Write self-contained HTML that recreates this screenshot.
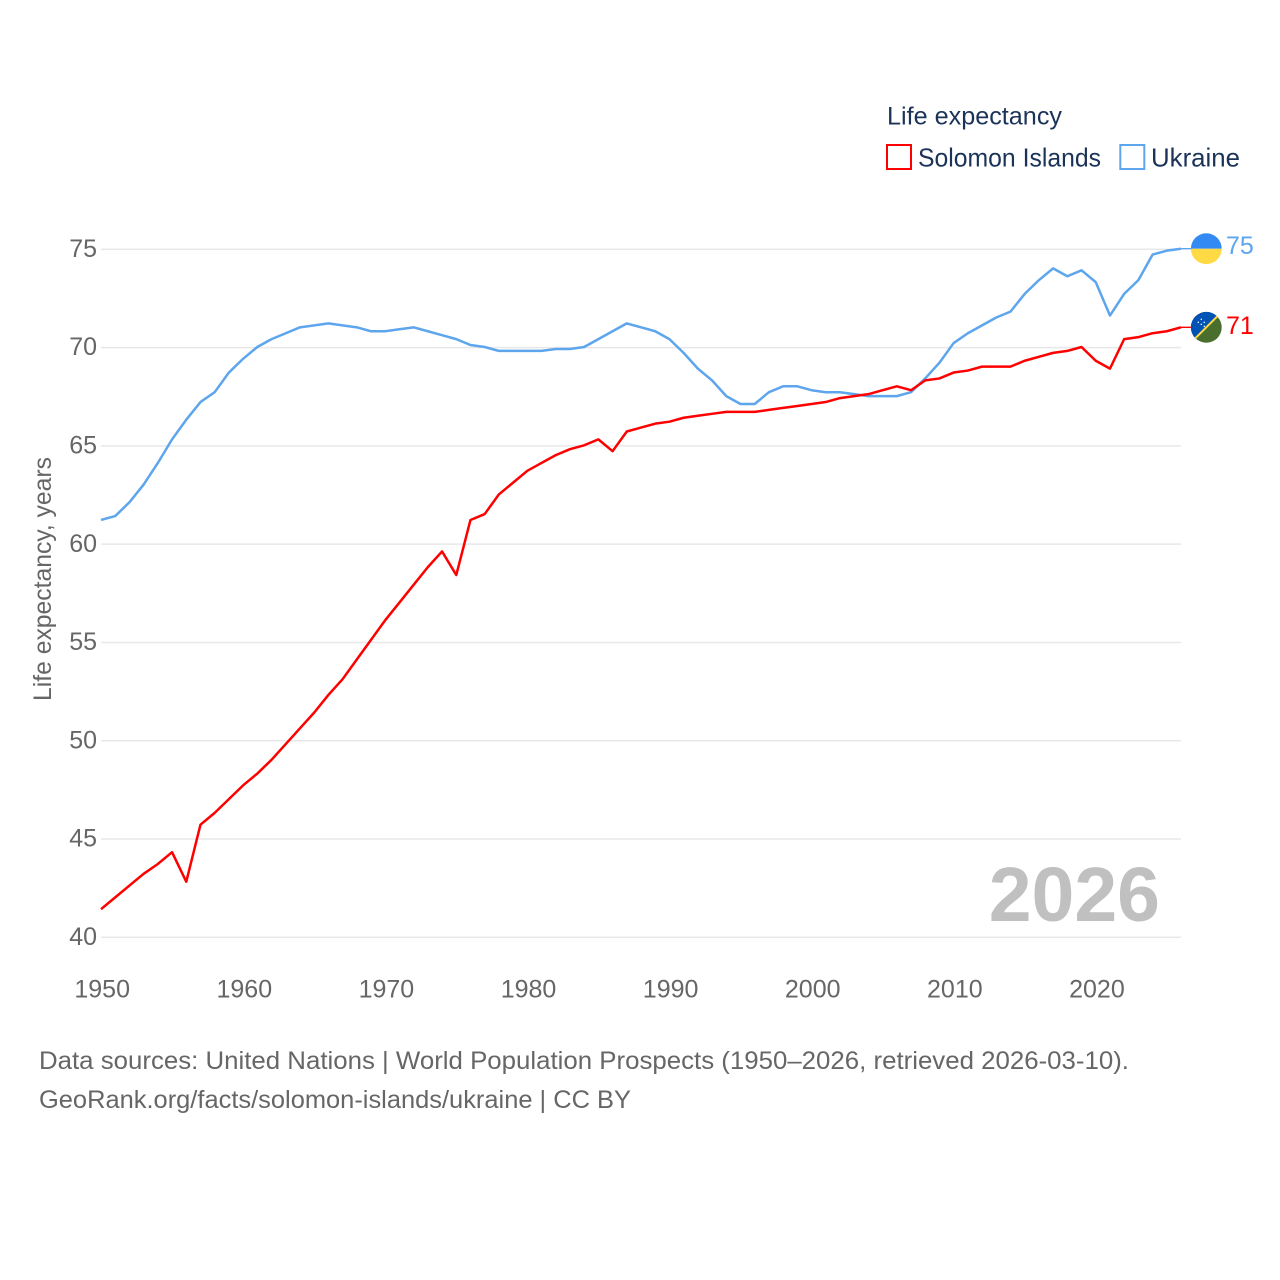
<!DOCTYPE html>
<html lang="en">
<head>
<meta charset="utf-8">
<title>Life expectancy: Solomon Islands and Ukraine</title>
<style>
html,body{margin:0;padding:0;background:#fff;width:1280px;height:1280px;overflow:hidden}
svg{display:block}
text{font-family:"Liberation Sans",sans-serif}
</style>
</head>
<body>
<svg id="chart" xmlns="http://www.w3.org/2000/svg" width="1280" height="1280" viewBox="0 0 1280 1280">
  <g id="grid"></g>
  <g id="yticks"></g>
  <g id="xticks"></g>
  <text transform="translate(51,701) rotate(-90)" font-size="25" fill="#666" textLength="244" lengthAdjust="spacingAndGlyphs">Life expectancy, years</text>
  <text x="1160" y="921" text-anchor="end" font-size="77" font-weight="700" fill="#c0c0c0">2026</text>
  <g id="series"></g>

  <g>
    <text x="887" y="124.5" font-size="25" fill="#1b3358" textLength="175" lengthAdjust="spacingAndGlyphs">Life expectancy</text>
    <rect x="887" y="145" width="24" height="24" fill="#fff" stroke="#f00" stroke-width="2"/>
    <text x="918" y="166.5" font-size="26" fill="#1b3358" textLength="183" lengthAdjust="spacingAndGlyphs">Solomon Islands</text>
    <rect x="1120.3" y="145" width="24" height="24" fill="#fff" stroke="#5da5ec" stroke-width="2"/>
    <text x="1151" y="166.5" font-size="26" fill="#1b3358" textLength="89" lengthAdjust="spacingAndGlyphs">Ukraine</text>
  </g>

  <g id="endmarks"></g>

  <text x="39" y="1069" font-size="25" fill="#666" textLength="1090" lengthAdjust="spacingAndGlyphs">Data sources: United Nations | World Population Prospects (1950–2026, retrieved 2026-03-10).</text>
  <text x="39" y="1108" font-size="25" fill="#666" textLength="592" lengthAdjust="spacingAndGlyphs">GeoRank.org/facts/solomon-islands/ukraine | CC BY</text>
</svg>
<script>
const startYear = 1950;
const yTickValues = [40, 45, 50, 55, 60, 65, 70, 75];
const xTickYears = [1950, 1960, 1970, 1980, 1990, 2000, 2010, 2020];
const solomonValues = [41.4,42.0,42.6,43.2,43.7,44.3,42.8,45.7,46.3,47.0,47.7,48.3,49.0,49.8,50.6,51.4,52.3,53.1,54.1,55.1,56.1,57.0,57.9,58.8,59.6,58.4,61.2,61.5,62.5,63.1,63.7,64.1,64.5,64.8,65.0,65.3,64.7,65.7,65.9,66.1,66.2,66.4,66.5,66.6,66.7,66.7,66.7,66.8,66.9,67.0,67.1,67.2,67.4,67.5,67.6,67.8,68.0,67.8,68.3,68.4,68.7,68.8,69.0,69.0,69.0,69.3,69.5,69.7,69.8,70.0,69.3,68.9,70.4,70.5,70.7,70.8,71.0];
const ukraineValues = [61.2,61.4,62.1,63.0,64.1,65.3,66.3,67.2,67.7,68.7,69.4,70.0,70.4,70.7,71.0,71.1,71.2,71.1,71.0,70.8,70.8,70.9,71.0,70.8,70.6,70.4,70.1,70.0,69.8,69.8,69.8,69.8,69.9,69.9,70.0,70.4,70.8,71.2,71.0,70.8,70.4,69.7,68.9,68.3,67.5,67.1,67.1,67.7,68.0,68.0,67.8,67.7,67.7,67.6,67.5,67.5,67.5,67.7,68.4,69.2,70.2,70.7,71.1,71.5,71.8,72.7,73.4,74.0,73.6,73.9,73.3,71.6,72.7,73.4,74.7,74.9,75.0];

const NS = 'http://www.w3.org/2000/svg';
const seriesNudge = -0.6;
function xScale(year) { return 101 + (year - 1950) * (1181 - 101) / 76; }
function yScale(v) { return 937.3 - (v - 40) * (937.3 - 249.3) / 35; }
function make(tag, attrs, parent, content) {
  const el = document.createElementNS(NS, tag);
  for (const k in attrs) el.setAttribute(k, attrs[k]);
  if (content !== undefined) el.textContent = content;
  parent.appendChild(el);
  return el;
}

const gridG = document.getElementById('grid');
const yG = document.getElementById('yticks');
yTickValues.forEach(function (v) {
  const line = make('line', {x1: 101, x2: 1181, y1: yScale(v), y2: yScale(v), stroke: '#e8e8e8', 'stroke-width': 1.5}, gridG);
  
  
  const label = make('text', {x: 97, y: yScale(v) + 7.6, 'text-anchor': 'end', 'font-size': 25, fill: '#666'}, yG, String(v));
  
  
});

const xG = document.getElementById('xticks');
xTickYears.forEach(function (yr) {
  const label = make('text', {x: xScale(yr) + 1.2, y: 997.4, 'text-anchor': 'middle', 'font-size': 25, fill: '#666'}, xG, String(yr));
  
  
});

function linePoints(values) {
  return values.map(function (v, i) {
    return xScale(startYear + i).toFixed(2) + ',' + (yScale(v) + seriesNudge).toFixed(2);
  }).join(' ');
}
const seriesG = document.getElementById('series');
const ukraineLine = make('polyline', {points: linePoints(ukraineValues), fill: 'none', stroke: '#5da5ec', 'stroke-width': 2.5, 'stroke-linejoin': 'round'}, seriesG);


const solomonLine = make('polyline', {points: linePoints(solomonValues), fill: 'none', stroke: '#f00', 'stroke-width': 2.5, 'stroke-linejoin': 'round'}, seriesG);



const endG = document.getElementById('endmarks');
const markX = 1206.3;
const flagR = 15.4;
const uLast = ukraineValues[ukraineValues.length - 1];
const sLast = solomonValues[solomonValues.length - 1];
const uY = yScale(uLast) + seriesNudge;
const sY = yScale(sLast) + seriesNudge;

const uConn = make('line', {x1: 1181, x2: 1192, y1: uY, y2: uY, stroke: '#5da5ec', 'stroke-width': 1.4}, endG);


const sConn = make('line', {x1: 1181, x2: 1192, y1: sY, y2: sY, stroke: '#f00', 'stroke-width': 1.4}, endG);



const uFlag = make('g', {transform: 'translate(' + markX + ',' + uY + ')'}, endG);


make('path', {d: 'M-' + flagR + ',0A' + flagR + ',' + flagR + ' 0 0 1 ' + flagR + ',0Z', fill: '#338af3'}, uFlag);
make('path', {d: 'M-' + flagR + ',0A' + flagR + ',' + flagR + ' 0 0 0 ' + flagR + ',0Z', fill: '#ffda44'}, uFlag);

const sFlag = make('g', {transform: 'translate(' + markX + ',' + sY + ')'}, endG);


make('circle', {r: flagR, fill: '#496e2d'}, sFlag);
make('path', {d: 'M-10.9,10.9A15.4,15.4 0 0 1 10.9,-10.9Z', fill: '#0052b4'}, sFlag);
make('line', {x1: -10.9, y1: 10.9, x2: 10.9, y2: -10.9, stroke: '#ffda44', 'stroke-width': 2}, sFlag);
[[-8, -5], [-5, -8], [-5, -3], [-2, -5], [-2, -1]].forEach(function (p) {
  make('circle', {cx: p[0], cy: p[1], r: 0.8, fill: '#dfe9f5'}, sFlag);
});

const uVal = make('text', {x: 1226, y: uY + 5.5, 'font-size': 25, fill: '#5da5ec'}, endG, String(uLast));


const sVal = make('text', {x: 1226, y: sY + 6.5, 'font-size': 25, fill: '#f00'}, endG, String(sLast));


</script>
</body>
</html>
